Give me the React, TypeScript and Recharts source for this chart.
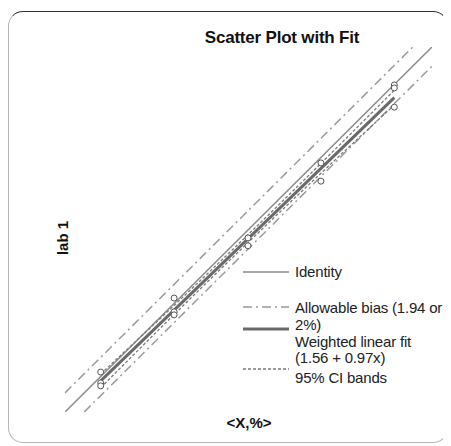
import { ComposedChart, Line, Scatter, XAxis, YAxis } from 'recharts'

const FONT = '"Liberation Sans", Arial, sans-serif'
const DOMAIN: [number, number] = [63, 100]

// observed points (mean of labs vs lab 1)
const pointX = [66.6, 66.6, 66.6, 74.0, 74.0, 74.0, 81.45, 81.45, 88.8, 88.8, 96.2, 96.2, 96.2]
const pointY = [67.05, 65.95, 65.65, 74.55, 73.15, 72.85, 80.65, 79.85, 88.25, 86.4, 96.15, 95.85, 93.9]

const identityX = [63, 100]
const identityY = [63, 100]
const biasUpperX = [63, 98.06]
const biasUpperY = [64.94, 100]
const biasLowerX = [64.94, 100]
const biasLowerY = [63, 98.06]
const fitX = [66.6, 96.2]
const fitY = [66.16, 94.87]
const ciX = [66.6, 74.0, 81.45, 88.8, 96.2]
const ciUpperY = [66.86, 73.8, 80.97, 88.2, 95.62]
const ciLowerY = [65.46, 72.88, 80.17, 87.2, 94.12]

const legendLabels = [
  ['Identity'],
  ['Allowable bias (1.94 or', '2%)'],
  ['Weighted linear fit', '(1.56 + 0.97x)'],
  ['95% CI bands']
]

const zip = (xs: number[], ys: number[]) => xs.map((x, i) => ({ x, y: ys[i] }))

const IDENTITY = { stroke: '#8a8a8a', strokeWidth: 1.5 }
const BIAS = { stroke: '#9a9a9a', strokeWidth: 1.5, strokeDasharray: '9 4 2 4' }
const FIT = { stroke: '#6a6a6a', strokeWidth: 3 }
const CI = { stroke: '#7a7a7a', strokeWidth: 1.3, strokeDasharray: '3 2' }
const legendStyles = [IDENTITY, BIAS, FIT, CI]
// symbol y and text line centre y, relative to the legend box
const legendSymY = [10, 45, 67, 107]
const legendTextY = [[10], [46, 63], [80, 96], [116]]

function LegendBox() {
  return (
    <div style={{ position: 'absolute', left: 234, top: 250, width: 210, height: 130 }}>
      {legendLabels.map((lines, i) => (
        <div key={i}>
          <svg
            width={48}
            height={6}
            style={{ position: 'absolute', left: 0, top: legendSymY[i] - 3 }}
          >
            <line x1={0} x2={46} y1={3} y2={3} {...legendStyles[i]} />
          </svg>
          {lines.map((t, j) => (
            <div
              key={j}
              style={{
                position: 'absolute',
                left: 52,
                top: legendTextY[i][j] - 9,
                fontSize: 15,
                lineHeight: '18px',
                letterSpacing: -0.2,
                whiteSpace: 'nowrap',
                color: '#222'
              }}
            >
              {t}
            </div>
          ))}
        </div>
      ))}
    </div>
  )
}

export default function App() {
  return (
    <div
      style={{
        position: 'relative',
        width: 440,
        height: 432,
        marginTop: 3,
        boxSizing: 'border-box',
        border: '1px solid #b5b5b5',
        borderTop: '1.5px solid #333',
        borderRadius: 15,
        fontFamily: FONT
      }}
    >
      <ComposedChart
        width={438}
        height={430}
        margin={{ top: 35, right: 15, bottom: 30, left: 56 }}
        style={{ position: 'absolute', left: 0, top: 0 }}
      >
        <XAxis type="number" dataKey="x" domain={DOMAIN} hide allowDataOverflow />
        <YAxis type="number" dataKey="y" domain={DOMAIN} hide allowDataOverflow />
        <Line data={zip(identityX, identityY)} dataKey="y" dot={false} isAnimationActive={false} {...IDENTITY} />
        <Line data={zip(biasUpperX, biasUpperY)} dataKey="y" dot={false} isAnimationActive={false} {...BIAS} />
        <Line data={zip(biasLowerX, biasLowerY)} dataKey="y" dot={false} isAnimationActive={false} {...BIAS} />
        <Line data={zip(fitX, fitY)} dataKey="y" dot={false} isAnimationActive={false} {...FIT} />
        <Line data={zip(ciX, ciUpperY)} dataKey="y" type="monotone" dot={false} isAnimationActive={false} {...CI} />
        <Line data={zip(ciX, ciLowerY)} dataKey="y" type="monotone" dot={false} isAnimationActive={false} {...CI} />
        <Scatter
          data={zip(pointX, pointY)}
          dataKey="y"
          isAnimationActive={false}
          shape={(p: any) => (
            <circle cx={p.cx} cy={p.cy} r={3} fill="#fff" stroke="#555" strokeWidth={1} />
          )}
        />
      </ComposedChart>
      <LegendBox />
      <div
        style={{
          position: 'absolute',
          left: 273,
          top: 16,
          transform: 'translateX(-50%)',
          fontSize: 17,
          fontWeight: 'bold',
          letterSpacing: -0.2,
          whiteSpace: 'nowrap',
          color: '#111'
        }}
      >
        Scatter Plot with Fit
      </div>
      <div
        style={{
          position: 'absolute',
          left: 53,
          top: 226,
          transform: 'translate(-50%, -50%) rotate(-90deg)',
          fontSize: 15,
          fontWeight: 'bold',
          whiteSpace: 'nowrap',
          color: '#111'
        }}
      >
        lab 1
      </div>
      <div
        style={{
          position: 'absolute',
          left: 240,
          top: 402,
          transform: 'translateX(-50%)',
          fontSize: 15,
          fontWeight: 'bold',
          whiteSpace: 'nowrap',
          color: '#111'
        }}
      >
        {'<X,%>'}
      </div>
    </div>
  )
}
